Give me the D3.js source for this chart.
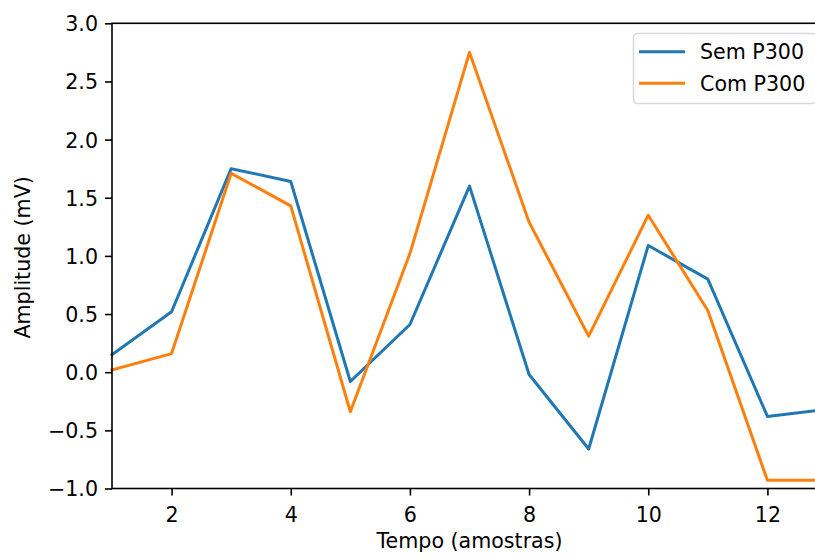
<!DOCTYPE html>
<html>
<head>
<meta charset="utf-8">
<script src="https://cdn.jsdelivr.net/npm/d3@7"></script>
<style>
  html, body { margin: 0; padding: 0; background: #fff; overflow: hidden; }
  svg { display: block; font-family: "DejaVu Sans", sans-serif; }
</style>
</head>
<body>
<div id="chart"></div>
<script>
// samples on the x axis
var samples = [1, 2, 3, 4, 5, 6, 7, 8, 9, 10, 11, 12, 13];
// amplitude (mV) without / with P300
var semP300 = [0.15, 0.52, 1.75, 1.64, -0.08, 0.41, 1.60, -0.02, -0.66, 1.09, 0.80, -0.38, -0.32];
var comP300 = [0.02, 0.16, 1.71, 1.43, -0.34, 1.02, 2.75, 1.29, 0.31, 1.35, 0.53, -0.93, -0.93];
var seriesNames = ["Sem P300", "Com P300"];
var xTicks = [2, 4, 6, 8, 10, 12];
var yTicks = [-1.0, -0.5, 0.0, 0.5, 1.0, 1.5, 2.0, 2.5, 3.0];

var width = 815, height = 557;
var margin = { left: 112, top: 23.3, right: 827, bottom: 488.5 };
var colors = ["#1f77b4", "#ff7f0e"];
var fontSize = 20.6;

var svg = d3.select("#chart").append("svg")
  .attr("width", width)
  .attr("height", height);

var x = d3.scaleLinear().domain([1, 13]).range([margin.left, margin.right]);
var y = d3.scaleLinear().domain([-1, 3]).range([margin.bottom, margin.top]);

function fmtMinus(s) { return s.replace("-", "\u2212"); }

// lines
var line = d3.line()
  .x(function(d, i) { return x(samples[i]); })
  .y(function(d) { return y(d); });

[semP300, comP300].forEach(function(vals, k) {
  svg.append("path")
    .datum(vals)
    .attr("d", line)
    .attr("fill", "none")
    .attr("stroke", colors[k])
    .attr("stroke-width", 3)
    .attr("stroke-linejoin", "round")
    .attr("stroke-linecap", "square");
});

// axes
var xAxis = d3.axisBottom(x).tickValues(xTicks).tickSize(7).tickPadding(7)
  .tickFormat(d3.format("d"));
var yAxis = d3.axisLeft(y).tickValues(yTicks).tickSize(7).tickPadding(7)
  .tickFormat(function(d) { return fmtMinus(d3.format(".1f")(d)); });

var gx = svg.append("g").attr("transform", "translate(0," + margin.bottom + ")").call(xAxis);
var gy = svg.append("g").attr("transform", "translate(" + margin.left + ",0)").call(yAxis);

[gx, gy].forEach(function(g) {
  g.select(".domain").remove();
  g.selectAll(".tick line").attr("stroke", "#000").attr("stroke-width", 1.6);
  g.selectAll(".tick text")
    .attr("fill", "#000")
    .attr("font-size", fontSize)
    .attr("font-family", "DejaVu Sans");
});
gx.selectAll(".tick text").attr("dy", null).attr("y", 33);
gy.selectAll(".tick text").attr("dy", "0.36em");

// spines
var spines = svg.append("g")
  .attr("fill", "none")
  .attr("stroke", "#000")
  .attr("stroke-width", 1.6);
spines.append("rect")
  .attr("x", margin.left)
  .attr("y", margin.top)
  .attr("width", margin.right - margin.left)
  .attr("height", margin.bottom - margin.top);

// axis labels
svg.append("text")
  .attr("x", (margin.left + margin.right) / 2)
  .attr("y", 548)
  .attr("text-anchor", "middle")
  .attr("font-size", fontSize)
  .text("Tempo (amostras)");

svg.append("text")
  .attr("transform", "translate(30," + ((margin.top + margin.bottom) / 2 + 1.5) + ") rotate(-90)")
  .attr("text-anchor", "middle")
  .attr("font-size", fontSize)
  .text("Amplitude (mV)");

// legend
var legend = svg.append("g");
legend.append("rect")
  .attr("x", 633.5)
  .attr("y", 33.5)
  .attr("width", 183)
  .attr("height", 70)
  .attr("rx", 4)
  .attr("fill", "#fff")
  .attr("fill-opacity", 0.8)
  .attr("stroke", "#d9d9d9")
  .attr("stroke-width", 1.6);

seriesNames.forEach(function(name, k) {
  var ly = 51.7 + k * 31.6;
  legend.append("line")
    .attr("x1", 639).attr("x2", 685)
    .attr("y1", ly).attr("y2", ly)
    .attr("stroke", colors[k])
    .attr("stroke-width", 3);
  legend.append("text")
    .attr("x", 700)
    .attr("y", ly + 7.5)
    .attr("font-size", fontSize)
    .text(name);
});
</script>
</body>
</html>
